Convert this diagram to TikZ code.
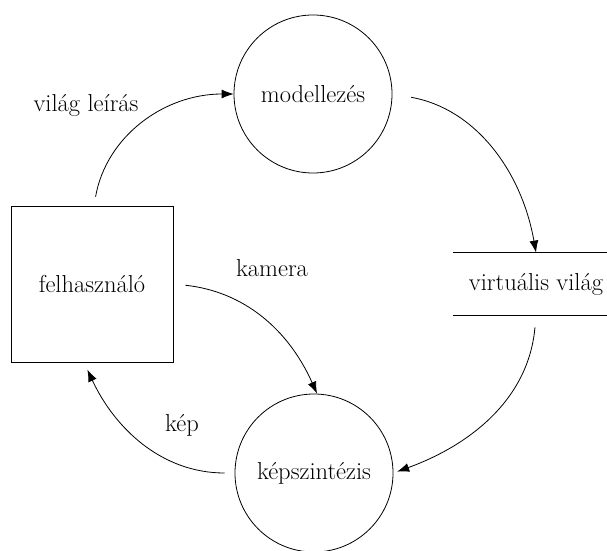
\documentclass[tikz,border=0pt]{standalone}
\usetikzlibrary{arrows.meta}

\begin{document}
\begin{tikzpicture}[x=1pt,y=1pt,line width=0.8pt,
    font=\fontsize{24.5}{29}\selectfont,
    main node/.style={circle,draw,minimum size=158pt,inner sep=0pt},
    user node/.style={rectangle,draw,minimum width=162pt,minimum height=156pt},
    store node/.style={minimum width=166pt,minimum height=62pt,inner sep=0pt},
    flow/.style={-{Latex[length=12pt,width=9pt]}}]
  \useasboundingbox (0,0) rectangle (607,550);
  \node[main node] (model) at (313,456) {modellezés};
  \node[main node] (synth) at (314,77) {képszintézis};
  \node[user node] (user) at (92,266) {felhasználó};
  \node[store node] (world) at (536,266) {virtuális világ};
  \draw (world.north west) -- (world.north east)
        (world.south west) -- (world.south east);

  % labels
  \node (lworld) at (86,445) {világ leírás};
  \node (lcam) at (272,282) {kamera};
  \node (limg) at (182,125) {kép};

  % data flows
  \draw[flow,shorten <=9pt] ([xshift=2pt]user.north) to[out=80,in=180] (model.west);
  \draw[flow,shorten <=19pt] (model.east) to[out=-10,in=100] (world.north);
  \draw[flow,shorten <=12pt,shorten >=4pt] (world.south) to[out=-95,in=20] (synth.east);
  \draw[flow,shorten <=10pt,shorten >=8pt] (synth.west) to[out=180,in=-65] ([xshift=-8pt]user.south);
  \draw[flow,shorten <=12pt] (user.east) to[out=-6,in=114] ([xshift=3pt]synth.north);
\end{tikzpicture}
\end{document}
